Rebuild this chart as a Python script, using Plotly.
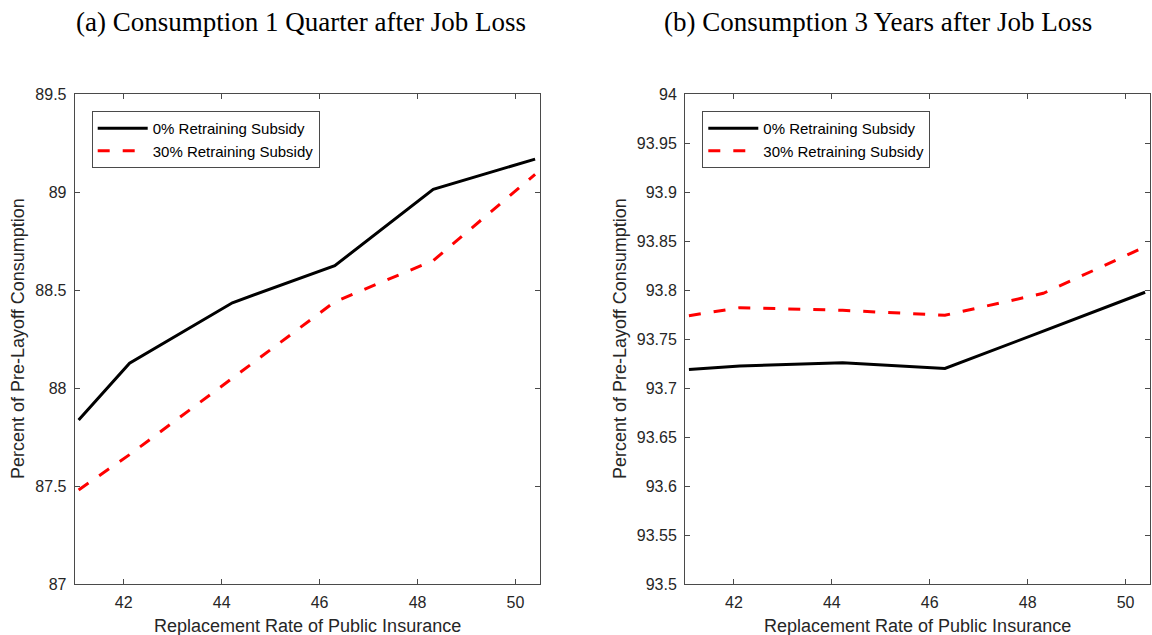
import plotly.graph_objects as go

# Replacement rate of public insurance (%) on the horizontal axis
replacement_rate = [41.08, 42.12, 44.22, 46.31, 48.32, 50.40]

# Consumption one quarter after job loss (% of pre-layoff)
q1_subsidy0 = [87.837, 88.126, 88.435, 88.624, 89.014, 89.168]
q1_subsidy30 = [87.480, 87.660, 88.050, 88.440, 88.650, 89.090]

# Consumption three years after job loss (% of pre-layoff)
y3_subsidy0 = [93.719, 93.7224, 93.7258, 93.720, 93.758, 93.7977]
y3_subsidy30 = [93.7738, 93.782, 93.7793, 93.7742, 93.7966, 93.844]

series_names = ["0% Retraining Subsidy", "30% Retraining Subsidy"]
panel_titles = ["(a) Consumption 1 Quarter after Job Loss",
                "(b) Consumption 3 Years after Job Loss"]
x_label = "Replacement Rate of Public Insurance"
y_label = "Percent of Pre-Layoff Consumption"

x_ticks = [42, 44, 46, 48, 50]
q1_ticks = [87, 87.5, 88, 88.5, 89, 89.5]
q1_tick_text = ["87", "87.5", "88", "88.5", "89", "89.5"]
y3_ticks = [93.5, 93.55, 93.6, 93.65, 93.7, 93.75, 93.8, 93.85, 93.9, 93.95, 94]
y3_tick_text = ["93.5", "93.55", "93.6", "93.65", "93.7", "93.75",
                "93.8", "93.85", "93.9", "93.95", "94"]

W, H = 1152, 635
SANS = "Arial, Liberation Sans, sans-serif"
SERIF = "Liberation Serif, DejaVu Serif, serif"
AXIS_COLOR = "#4a4a4a"
TEXT_COLOR = "#262626"

# pixel boxes of the two panels
left_box = (74.7, 540.0)
right_box = (685.0, 1150.0)
top_px, bottom_px = 94.0, 584.0

def px_x(v):
    return v / W

def px_y(v):
    return 1 - v / H

fig = go.Figure()

solid = dict(color="black", width=3)
dashed = dict(color="red", width=3, dash="12px,13px")

fig.add_trace(go.Scatter(x=replacement_rate, y=q1_subsidy0, mode="lines",
                         name=series_names[0], line=solid,
                         xaxis="x", yaxis="y", legend="legend"))
fig.add_trace(go.Scatter(x=replacement_rate, y=q1_subsidy30, mode="lines",
                         name=series_names[1], line=dashed,
                         xaxis="x", yaxis="y", legend="legend"))
fig.add_trace(go.Scatter(x=replacement_rate, y=y3_subsidy0, mode="lines",
                         name=series_names[0], line=solid,
                         xaxis="x2", yaxis="y2", legend="legend2"))
fig.add_trace(go.Scatter(x=replacement_rate, y=y3_subsidy30, mode="lines",
                         name=series_names[1], line=dashed,
                         xaxis="x2", yaxis="y2", legend="legend2"))

axis_common = dict(
    showgrid=False, zeroline=False, automargin=False,
    showline=True, linecolor=AXIS_COLOR, linewidth=1, mirror="ticks",
    ticks="inside", ticklen=5, tickcolor=AXIS_COLOR, tickwidth=1,
    tickfont=dict(family=SANS, size=16, color=TEXT_COLOR),
)

y_domain = [px_y(bottom_px), px_y(top_px)]

legend_common = dict(
    bgcolor="white", bordercolor=AXIS_COLOR, borderwidth=1,
    font=dict(family=SANS, size=15, color="black"),
    xanchor="left", yanchor="top", itemwidth=50,
    tracegroupgap=0,
)

fig.update_layout(
    template="none",
    width=W, height=H,
    margin=dict(l=0, r=0, t=0, b=0, autoexpand=False),
    paper_bgcolor="white", plot_bgcolor="white",
    showlegend=True,
    xaxis=dict(domain=[px_x(left_box[0]), px_x(left_box[1])], range=[41, 50.5],
               tickvals=x_ticks, anchor="y", ticklabelstandoff=4, **axis_common),
    yaxis=dict(domain=y_domain, range=[87, 89.5], tickvals=q1_ticks,
               ticktext=q1_tick_text, anchor="x", ticklabelstandoff=4, **axis_common),
    xaxis2=dict(domain=[px_x(right_box[0]), px_x(right_box[1])], range=[41, 50.5],
                tickvals=x_ticks, anchor="y2", ticklabelstandoff=4, **axis_common),
    yaxis2=dict(domain=y_domain, range=[93.5, 94], tickvals=y3_ticks,
                ticktext=y3_tick_text, anchor="x2", ticklabelstandoff=4, **axis_common),
    legend=dict(x=px_x(91.7), y=px_y(111), **legend_common),
    legend2=dict(x=px_x(702.3), y=px_y(111), **legend_common),
)

annotations = []
for title, cx in zip(panel_titles, [300.5, 878.0]):
    annotations.append(dict(text=title, x=px_x(cx), y=px_y(22), xref="paper", yref="paper",
                            xanchor="center", yanchor="middle", showarrow=False,
                            font=dict(family=SERIF, size=27, color="black")))
for box in (left_box, right_box):
    annotations.append(dict(text=x_label, x=px_x((box[0] + box[1]) / 2), y=px_y(626),
                            xref="paper", yref="paper", xanchor="center", yanchor="middle",
                            showarrow=False, font=dict(family=SANS, size=18, color=TEXT_COLOR)))
for cx in (18.0, 620.0):
    annotations.append(dict(text=y_label, x=px_x(cx), y=px_y((top_px + bottom_px) / 2),
                            xref="paper", yref="paper", xanchor="center", yanchor="middle",
                            textangle=-90, showarrow=False,
                            font=dict(family=SANS, size=18, color=TEXT_COLOR)))
fig.update_layout(annotations=annotations)

fig.write_html("out.html")
